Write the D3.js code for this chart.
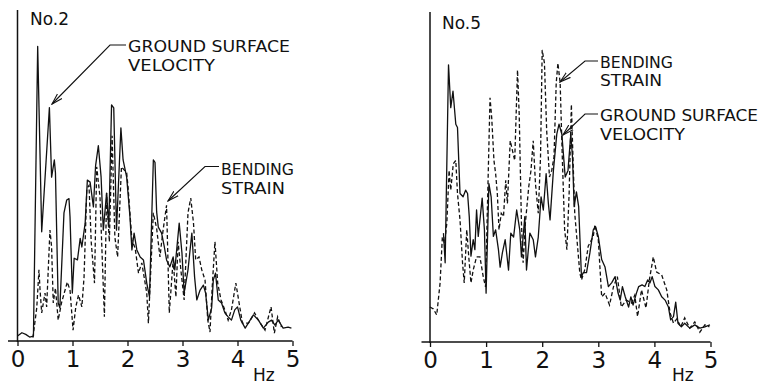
<!DOCTYPE html>
<html>
<head>
<meta charset="utf-8">
<script src="https://cdn.jsdelivr.net/npm/d3@7"></script>
<style>
  body { margin: 0; background: #fff; }
  svg { display: block; }
  text { font-family: 'DejaVu Sans', sans-serif; fill: #111; }
</style>
</head>
<body>
<div id="chart"></div>
<script>
// frequency ticks (Hz)
const freqTicks = [0, 1, 2, 3, 4, 5];

// No.2 : [Hz, relative amplitude]
const no2Velocity = [[0,1.5],[0.08,2.5],[0.15,2],[0.22,1.2],[0.29,1.5],[0.3,13],[0.367,89],[0.44,33],[0.58,70.5],[0.62,49.5],[0.67,54.7],[0.69,50.8],[0.74,11.5],[0.77,10],[0.845,38.7],[0.895,42.6],[0.936,43],[0.955,37.5],[0.997,14.5],[1.03,25],[1.09,24.5],[1.14,31],[1.17,28.4],[1.23,35.6],[1.27,48.6],[1.32,48],[1.38,40.5],[1.42,53],[1.47,59],[1.52,49.5],[1.56,33.5],[1.62,44.7],[1.66,34.4],[1.71,71.3],[1.75,70.4],[1.80,33.5],[1.88,64.4],[1.92,54.7],[1.985,49.5],[2.045,37.5],[2.08,27.5],[2.12,32.6],[2.17,27.5],[2.23,25.4],[2.29,24.5],[2.35,17.5],[2.40,13.3],[2.47,54.7],[2.5,54],[2.53,39],[2.56,34.4],[2.62,32.6],[2.67,28.4],[2.71,24.5],[2.77,22.4],[2.83,25.4],[2.86,21.5],[2.94,35.6],[2.99,26.6],[3.03,14.5],[3.1,21.5],[3.17,32.6],[3.22,19.3],[3.26,12.4],[3.32,15.4],[3.38,16.9],[3.42,14.5],[3.47,6.3],[3.53,10],[3.56,18.4],[3.60,20.5],[3.65,12.4],[3.71,11.5],[3.77,8.5],[3.83,7.3],[3.89,6.3],[3.95,9.4],[4.0,10.3],[4.06,6.3],[4.14,3.9],[4.23,6.3],[4.29,7.9],[4.38,6.3],[4.47,3.9],[4.56,5.7],[4.62,6.3],[4.68,4.8],[4.74,6.3],[4.83,3.9],[4.92,4.2],[4.98,3.9]];
const no2Strain = [[0.28,1],[0.35,10],[0.39,21.5],[0.41,15.4],[0.44,8.5],[0.5,14.5],[0.53,10.3],[0.59,33.5],[0.62,28.4],[0.65,11.5],[0.69,16],[0.74,6.3],[0.80,11.5],[0.905,17.8],[0.955,15.4],[1.01,3.3],[1.06,10.3],[1.11,13.9],[1.17,10.3],[1.21,19.3],[1.26,46],[1.3,47],[1.34,30],[1.40,17.5],[1.44,52.6],[1.50,43.5],[1.58,7.3],[1.62,44.7],[1.67,30],[1.72,62],[1.77,31.4],[1.82,25.4],[1.89,52.6],[1.985,50.8],[2.01,46.5],[2.08,30.5],[2.14,28],[2.2,20.5],[2.26,23.6],[2.35,14.5],[2.38,5.4],[2.47,38.7],[2.53,34],[2.59,25.4],[2.64,32.6],[2.71,41],[2.76,8.5],[2.83,24.5],[2.88,13.3],[2.92,30],[2.97,21.5],[3.03,12.4],[3.1,38.7],[3.15,43.2],[3.2,35.6],[3.24,24.5],[3.3,25.4],[3.35,21.5],[3.41,18.4],[3.46,6.3],[3.5,2.7],[3.54,16.3],[3.59,30],[3.64,17.5],[3.70,12.4],[3.77,9.4],[3.83,6.3],[3.89,9.4],[3.97,17.5],[4.02,12.4],[4.09,5.4],[4.2,5.4],[4.31,8.5],[4.38,6.3],[4.5,3.3],[4.61,10.3],[4.67,2.4],[4.73,7.3],[4.8,4.2]];

// No.5 : [Hz, relative amplitude]
const no5Velocity = [[0.24,33],[0.27,24],[0.33,84],[0.37,71],[0.41,76],[0.46,66],[0.49,65],[0.535,45],[0.59,44],[0.635,46],[0.67,45],[0.70,38],[0.73,26],[0.77,31],[0.80,28],[0.83,40],[0.86,32],[0.93,43.6],[0.97,34],[1.0,14.8],[1.05,48],[1.09,44],[1.13,32],[1.17,34],[1.22,28],[1.25,22.7],[1.29,27],[1.34,31],[1.40,21.8],[1.44,33],[1.49,31.8],[1.545,40],[1.60,34],[1.63,25.8],[1.69,38],[1.72,21.8],[1.78,33],[1.84,31],[1.88,25.8],[1.93,31.8],[1.98,44],[2.02,40],[2.07,51],[2.11,42],[2.14,37],[2.2,52],[2.26,63],[2.30,66],[2.35,63],[2.41,50],[2.46,52],[2.51,63],[2.54,56],[2.57,41],[2.61,45.5],[2.65,41],[2.70,19.7],[2.73,21],[2.79,21],[2.85,27],[2.91,34],[2.95,35],[3.0,32],[3.06,25],[3.12,22.7],[3.18,16.8],[3.24,18],[3.30,19.8],[3.35,15],[3.39,12.7],[3.43,16.8],[3.48,13.7],[3.54,10.6],[3.58,13.7],[3.62,11.2],[3.68,14.8],[3.72,16.8],[3.78,17.3],[3.83,16.8],[3.88,18.8],[3.92,17.9],[3.96,19.8],[4.01,16.8],[4.07,15.8],[4.13,13.7],[4.19,12.7],[4.25,10.6],[4.29,6.7],[4.34,7.7],[4.38,12.1],[4.42,5.7],[4.48,4.6],[4.54,5.7],[4.63,4.2],[4.72,5.2],[4.81,4.2],[4.9,4.6],[4.99,5.2]];
const no5Strain = [[0,10.6],[0.06,10],[0.12,8.2],[0.18,17.9],[0.22,31.8],[0.26,30],[0.30,36],[0.34,52],[0.37,46],[0.415,54],[0.46,55],[0.49,45],[0.535,37],[0.58,24],[0.61,17.9],[0.655,34],[0.69,26],[0.73,17.9],[0.77,21.8],[0.83,25.8],[0.89,25.8],[0.95,19.7],[0.99,16.7],[1.07,74],[1.10,68],[1.14,55],[1.17,51],[1.2,45],[1.23,34],[1.27,39],[1.31,38],[1.35,49],[1.38,42],[1.43,61],[1.47,58],[1.51,55],[1.56,82.4],[1.59,69],[1.63,36],[1.66,24],[1.70,36],[1.76,47],[1.80,52],[1.84,61],[1.88,48],[1.93,39],[1.97,56],[2.0,88.5],[2.04,84.5],[2.08,64],[2.13,50],[2.17,52],[2.21,56],[2.25,78.5],[2.28,84.5],[2.32,78.5],[2.36,55],[2.40,34],[2.44,28],[2.48,45],[2.52,72],[2.55,55],[2.58,39],[2.63,29],[2.67,21],[2.70,18.8],[2.76,22],[2.82,29],[2.91,32],[2.94,35.5],[3.0,31],[3.06,13.7],[3.12,14.8],[3.2,11.2],[3.27,16.7],[3.34,19.8],[3.41,10.6],[3.50,12.7],[3.59,11.8],[3.65,14.2],[3.70,7.7],[3.77,15.8],[3.85,10.3],[3.91,18.8],[3.98,25.8],[4.04,21.2],[4.13,20.3],[4.22,15.8],[4.28,8.8],[4.34,5.7],[4.40,7],[4.47,4.6],[4.54,7.3],[4.63,4.2],[4.72,6.1],[4.81,3.0],[4.9,5.2],[4.98,4.6]];

const panels = [
  {
    title: 'No.2', velocity: no2Velocity, strain: no2Strain,
    x0: 17.5, x1: 292.5, yBase: 341, yTop: 10, axisLeft: 8,
    titlePos: [30, 25], hzPos: [253, 381],
    notes: [
      { lines: ['GROUND SURFACE', 'VELOCITY'], widths: [162, 87], x: 128, y: 52, dy: 18.5,
        elbow: [110, 45], end: [126, 45], tip: [52, 104] },
      { lines: ['BENDING', 'STRAIN'], widths: [73, 64], x: 221, y: 175, dy: 18.5,
        elbow: [205, 166.5], end: [219, 166.5], tip: [168, 201] }
    ]
  },
  {
    title: 'No.5', velocity: no5Velocity, strain: no5Strain,
    x0: 430, x1: 710.5, yBase: 342, yTop: 12, axisLeft: 421.5,
    titlePos: [442, 28.5], hzPos: [672, 381],
    notes: [
      { lines: ['BENDING', 'STRAIN'], widths: [73, 62], x: 600, y: 67.5, dy: 18.5,
        elbow: [585, 61], end: [598, 61], tip: [560, 82] },
      { lines: ['GROUND SURFACE', 'VELOCITY'], widths: [158, 85], x: 600, y: 121, dy: 18.5,
        elbow: [585, 114], end: [598, 114], tip: [563, 135] }
    ]
  }
];

const W = 764, H = 386;
const svg = d3.select('#chart').append('svg')
  .attr('width', W).attr('height', H)
  .attr('viewBox', `0 0 ${W} ${H}`);

svg.append('rect').attr('width', W).attr('height', H).attr('fill', '#fff');

svg.append('defs').append('marker')
  .attr('id', 'arrow')
  .attr('viewBox', '0 -5 12 10')
  .attr('refX', 11).attr('refY', 0)
  .attr('markerWidth', 12).attr('markerHeight', 10)
  .attr('markerUnits', 'userSpaceOnUse')
  .attr('orient', 'auto')
  .append('path')
  .attr('d', 'M0,-3.2L11,0L0,3.2')
  .attr('fill', 'none')
  .attr('stroke', '#111')
  .attr('stroke-width', 1.1);

panels.forEach((p) => {
  const x = d3.scaleLinear().domain([0, 5]).range([p.x0, p.x1]);
  const y = d3.scaleLinear().domain([0, 100]).range([p.yBase, p.yTop]);
  const g = svg.append('g');

  // vertical axis
  g.append('line')
    .attr('x1', x(0)).attr('x2', x(0))
    .attr('y1', p.yTop).attr('y2', p.yBase + 1)
    .attr('stroke', '#111').attr('stroke-width', 1.5);

  // baseline, runs a bit left of 0
  g.append('line')
    .attr('x1', p.axisLeft).attr('x2', x(5))
    .attr('y1', p.yBase).attr('y2', p.yBase)
    .attr('stroke', '#111').attr('stroke-width', 1.5);

  const axis = g.append('g')
    .attr('transform', `translate(0,${p.yBase})`)
    .call(d3.axisBottom(x).tickValues(freqTicks).tickFormat(d3.format('d'))
      .tickSize(5).tickSizeOuter(0).tickPadding(5));
  axis.select('.domain').remove();
  axis.selectAll('.tick line').attr('stroke', '#111').attr('stroke-width', 1.3);
  axis.selectAll('.tick text')
    .attr('font-family', "'DejaVu Sans', sans-serif")
    .attr('font-size', 23).attr('fill', '#111');

  const line = d3.line()
    .x((d) => x(d[0]))
    .y((d) => y(d[1]));

  g.append('path')
    .datum(p.strain)
    .attr('d', line)
    .attr('fill', 'none')
    .attr('stroke', '#111')
    .attr('stroke-width', 1.3)
    .attr('stroke-dasharray', '4,2.5');

  g.append('path')
    .datum(p.velocity)
    .attr('d', line)
    .attr('fill', 'none')
    .attr('stroke', '#111')
    .attr('stroke-width', 1.3)
    .attr('stroke-linejoin', 'round');

  g.append('text')
    .attr('x', p.titlePos[0]).attr('y', p.titlePos[1])
    .attr('font-size', 18)
    .attr('textLength', 39).attr('lengthAdjust', 'spacingAndGlyphs')
    .text(p.title);

  g.append('text')
    .attr('x', p.hzPos[0]).attr('y', p.hzPos[1])
    .attr('font-size', 17)
    .text('Hz');

  // leader lines with arrows
  p.notes.forEach((n) => {
    g.append('path')
      .attr('d', `M${n.end[0]},${n.end[1]}L${n.elbow[0]},${n.elbow[1]}L${n.tip[0]},${n.tip[1]}`)
      .attr('fill', 'none')
      .attr('stroke', '#111')
      .attr('stroke-width', 1.1)
      .attr('marker-end', 'url(#arrow)');

    n.lines.forEach((t, i) => {
      g.append('text')
        .attr('x', n.x).attr('y', n.y + i * n.dy)
        .attr('font-size', 16)
        .attr('textLength', n.widths[i])
        .attr('lengthAdjust', 'spacingAndGlyphs')
        .text(t);
    });
  });
});
</script>
</body>
</html>
